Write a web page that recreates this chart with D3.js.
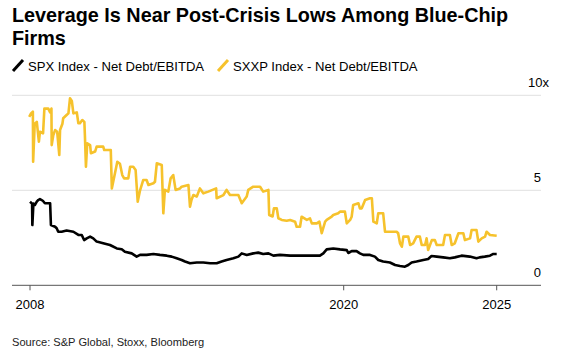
<!DOCTYPE html>
<html>
<head>
<meta charset="utf-8">
<script src="https://cdn.jsdelivr.net/npm/d3@7"></script>
<style>
  body { margin: 0; background: #fff; }
  svg { display: block; font-family: "Liberation Sans", Arial, sans-serif; }
</style>
</head>
<body>
<div id="chart"></div>
<script>
// Net Debt/EBITDA, decimal years
const spxYears = [2008.00,2008.08,2008.09,2008.13,2008.19,2008.26,2008.32,2008.38,2008.49,2008.57,2008.77,2008.80,2008.96,2009.02,2009.08,2009.21,2009.40,2009.66,2009.85,2009.98,2010.07,2010.17,2010.30,2010.42,2010.55,2010.80,2011.06,2011.32,2011.51,2011.63,2011.89,2012.08,2012.21,2012.46,2012.72,2012.97,2013.23,2013.42,2013.61,2013.80,2013.93,2014.12,2014.38,2014.63,2014.89,2015.14,2015.33,2015.52,2015.78,2015.97,2016.10,2016.29,2016.54,2016.73,2016.92,2017.12,2017.31,2017.56,2017.95,2018.33,2018.71,2019.09,2019.22,2019.35,2019.60,2019.86,2020.10,2020.15,2020.26,2020.42,2020.53,2020.64,2020.86,2021.02,2021.13,2021.29,2021.51,2021.68,2021.84,2022.00,2022.11,2022.22,2022.38,2022.60,2022.76,2022.87,2023.04,2023.25,2023.47,2023.63,2023.85,2024.12,2024.34,2024.44,2024.61,2024.78,2024.89,2025.00];
const spxValues = [4.40,4.30,3.17,4.30,4.23,4.40,4.49,4.54,4.45,4.32,4.32,3.17,3.08,3.00,2.82,2.82,2.88,2.82,2.65,2.65,2.38,2.47,2.56,2.47,2.30,2.21,2.12,1.94,1.90,1.77,1.68,1.51,1.60,1.60,1.65,1.60,1.56,1.51,1.42,1.33,1.25,1.16,1.20,1.20,1.16,1.16,1.25,1.33,1.42,1.51,1.68,1.60,1.68,1.72,1.65,1.68,1.56,1.60,1.56,1.56,1.56,1.56,1.68,1.89,1.94,1.89,1.85,1.70,1.80,1.80,1.68,1.60,1.60,1.51,1.33,1.25,1.20,1.07,1.02,0.98,1.07,1.20,1.25,1.33,1.38,1.54,1.51,1.47,1.42,1.47,1.56,1.51,1.42,1.47,1.51,1.56,1.65,1.65];

const sxxpYears = [2007.97,2008.04,2008.11,2008.12,2008.18,2008.26,2008.34,2008.38,2008.50,2008.55,2008.70,2008.77,2008.82,2008.83,2008.89,2008.96,2009.04,2009.12,2009.15,2009.24,2009.27,2009.40,2009.47,2009.53,2009.60,2009.66,2009.79,2009.85,2009.91,2010.00,2010.08,2010.10,2010.14,2010.19,2010.30,2010.33,2010.49,2010.55,2010.80,2010.84,2011.09,2011.13,2011.25,2011.34,2011.44,2011.53,2011.60,2011.76,2011.83,2011.95,2012.04,2012.12,2012.21,2012.33,2012.46,2012.53,2012.72,2012.78,2012.85,2013.04,2013.10,2013.16,2013.29,2013.38,2013.48,2013.57,2013.74,2013.80,2014.06,2014.12,2014.18,2014.25,2014.38,2014.50,2014.63,2014.82,2015.12,2015.14,2015.40,2015.52,2015.65,2015.97,2016.10,2016.29,2016.35,2016.54,2016.80,2016.92,2017.12,2017.15,2017.28,2017.33,2017.44,2017.50,2017.63,2017.82,2017.95,2018.14,2018.20,2018.33,2018.39,2018.59,2018.71,2018.78,2018.97,2019.07,2019.16,2019.29,2019.35,2019.54,2019.60,2019.79,2019.86,2020.04,2020.10,2020.21,2020.26,2020.31,2020.48,2020.53,2020.59,2020.70,2020.86,2020.92,2020.97,2021.08,2021.13,2021.29,2021.35,2021.73,2021.78,2021.84,2021.90,2021.95,2022.11,2022.17,2022.27,2022.38,2022.49,2022.55,2022.66,2022.71,2022.76,2022.88,2022.98,2023.04,2023.25,2023.31,2023.47,2023.53,2023.63,2023.75,2023.91,2023.96,2024.13,2024.18,2024.34,2024.40,2024.51,2024.62,2024.67,2024.78,2025.00];
const sxxpValues = [8.87,9.05,9.14,6.50,8.50,8.60,7.56,8.08,8.00,9.30,9.30,9.10,9.30,7.38,7.90,8.17,8.08,6.86,8.17,8.50,8.79,8.96,9.05,9.84,9.70,9.05,9.10,8.53,8.53,8.70,8.60,7.90,6.24,7.47,7.38,6.95,7.04,7.30,7.30,7.12,7.12,5.10,5.90,6.50,6.40,5.80,5.63,5.63,6.24,6.24,6.07,4.40,5.00,5.54,5.54,5.28,5.37,5.45,6.42,6.33,3.79,5.02,4.93,5.63,5.80,5.02,5.10,5.19,5.28,4.14,4.50,4.75,4.67,5.10,4.84,4.93,5.10,4.58,4.75,5.02,4.75,4.75,4.32,4.67,5.02,5.19,5.19,4.93,5.02,3.70,3.62,4.05,4.05,3.53,3.44,3.40,3.44,3.35,3.08,3.08,3.61,3.44,3.52,3.26,3.26,3.35,2.74,3.35,3.44,3.61,3.70,3.79,3.88,3.88,3.26,3.44,3.61,4.23,4.32,4.05,4.05,4.49,4.58,4.58,3.35,3.26,3.79,3.79,2.82,2.82,2.74,2.21,2.03,2.56,2.56,2.12,2.21,2.56,2.56,2.12,2.12,2.47,1.86,2.38,2.38,2.12,2.12,2.65,2.65,2.12,2.21,2.74,2.74,2.38,2.47,2.91,2.91,2.30,2.47,2.56,2.82,2.65,2.61];

const xTicks = [2008, 2020, 2025];
const yTicks = [0, 5, 10];

const seriesNames = ["SPX Index - Net Debt/EBITDA", "SXXP Index - Net Debt/EBITDA"];
const seriesColors = ["#000000", "#f6c22c"];

const width = 576, height = 351;
const svg = d3.select("#chart").append("svg")
    .attr("width", width)
    .attr("height", height);

// title
const title = svg.append("text")
    .attr("font-size", "19.8px")
    .attr("font-weight", "bold")
    .attr("fill", "#000");
title.append("tspan").attr("x", 12).attr("y", 22).text("Leverage Is Near Post-Crisis Lows Among Blue-Chip");
title.append("tspan").attr("x", 12).attr("y", 45).text("Firms");

// legend
const legendX = [12, 217];
seriesNames.forEach(function(name, i) {
  const g = svg.append("g").attr("transform", "translate(" + legendX[i] + ",0)");
  g.append("line")
    .attr("x1", 1).attr("y1", 71)
    .attr("x2", 11).attr("y2", 60)
    .attr("stroke", seriesColors[i])
    .attr("stroke-width", 3);
  g.append("text")
    .attr("x", 16)
    .attr("y", 71)
    .attr("font-size", "13.1px")
    .attr("fill", "#000")
    .text(name);
});

// scales: the time axis is piecewise between the labelled years
const x = d3.scaleLinear()
    .domain(xTicks)
    .range([30, 343.7, 496.7]);
const y = d3.scaleLinear()
    .domain([0, 10])
    .range([285.3, 95.3]);

// grid
svg.append("g")
  .selectAll("line")
  .data(yTicks.filter(d => d > 0))
  .enter().append("line")
    .attr("x1", 12).attr("x2", 541)
    .attr("y1", d => y(d)).attr("y2", d => y(d))
    .attr("stroke", "#e0e0e0")
    .attr("stroke-width", 1);

// y labels on the right
svg.append("g")
  .selectAll("text")
  .data(yTicks)
  .enter().append("text")
    .attr("x", d => d === 10 ? 549 : 541)
    .attr("y", d => y(d) - 8)
    .attr("text-anchor", "end")
    .attr("font-size", "13px")
    .attr("fill", "#000")
    .text(d => d === 10 ? "10x" : d);

// x axis
const xAxis = svg.append("g")
    .attr("transform", "translate(0," + y(0) + ")");
xAxis.append("line")
    .attr("x1", 12).attr("x2", 541)
    .attr("stroke", "#555").attr("stroke-width", 1);
xAxis.selectAll(".tick")
  .data(xTicks)
  .enter().append("line")
    .attr("x1", d => x(d)).attr("x2", d => x(d))
    .attr("y1", 0).attr("y2", 5)
    .attr("stroke", "#555");
xAxis.selectAll(".lbl")
  .data(xTicks)
  .enter().append("text")
    .attr("x", d => x(d))
    .attr("y", 24)
    .attr("text-anchor", "middle")
    .attr("font-size", "13px")
    .attr("fill", "#000")
    .text(d => d);

// lines
const line = d3.line()
    .x(d => x(d[0]))
    .y(d => y(d[1]));

const sxxp = d3.zip(sxxpYears, sxxpValues);
const spx = d3.zip(spxYears, spxValues);

svg.append("path")
    .datum(sxxp)
    .attr("fill", "none")
    .attr("stroke", seriesColors[1])
    .attr("stroke-width", 2.6)
    .attr("stroke-linejoin", "round")
    .attr("d", line);

svg.append("path")
    .datum(spx)
    .attr("fill", "none")
    .attr("stroke", seriesColors[0])
    .attr("stroke-width", 2.6)
    .attr("stroke-linejoin", "round")
    .attr("d", line);

// source
svg.append("text")
    .attr("x", 12)
    .attr("y", 346)
    .attr("font-size", "11.1px")
    .attr("fill", "#222")
    .text("Source: S&P Global, Stoxx, Bloomberg");
</script>
</body>
</html>
